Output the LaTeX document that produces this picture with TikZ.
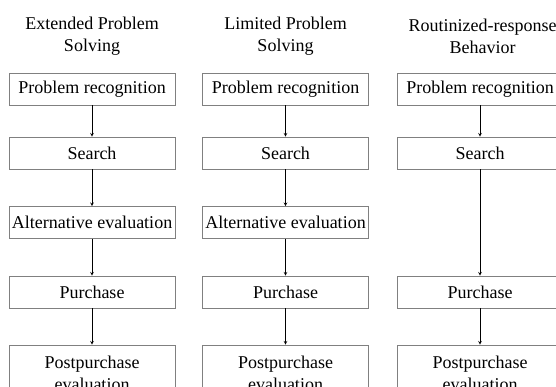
\documentclass[tikz,border=0pt]{standalone}
\usepackage{fontspec}
\setmainfont{Liberation Serif}
\usepackage{tikz}

\begin{document}
\begin{tikzpicture}[x=1pt,y=1pt,
  every node/.style={font=\fontsize{18}{22}\selectfont},
  stage/.style={draw=gray, line width=0.8pt, minimum width=166pt, minimum height=32pt, inner sep=1pt, align=center},
  flow/.style={->, >=stealth, line width=0.6pt}]

% page frame, boxes run off the right and bottom edges
\useasboundingbox (0,0) rectangle (556,-387);
\clip (0,0) rectangle (556,-387);

% --- Extended Problem Solving ---
\begin{scope}[shift={(92,0)}]
\node [align=center] (ext-title) at (0,-36) {Extended Problem\\Solving};
\node [stage] (ext-rec) at (0,-89) {Problem recognition};
\node [stage] (ext-search) at (0,-153) {Search};
\node [stage] (ext-alt) at (0,-222.5) {Alternative evaluation};
\node [stage] (ext-buy) at (0,-292) {Purchase};
\node [stage, minimum height=56pt] (ext-post) at (0,-373) {Postpurchase\\evaluation};

\draw[flow] (ext-rec) -- (ext-search);
\draw[flow] (ext-search) -- (ext-alt);
\draw[flow] (ext-alt) -- (ext-buy);
\draw[flow] (ext-buy) -- (ext-post);
\end{scope}

% --- Limited Problem Solving ---
\begin{scope}[shift={(285.5,0)}]
\node [align=center] (lim-title) at (0,-36) {Limited Problem\\Solving};
\node [stage] (lim-rec) at (0,-89) {Problem recognition};
\node [stage] (lim-search) at (0,-153) {Search};
\node [stage] (lim-alt) at (0,-222.5) {Alternative evaluation};
\node [stage] (lim-buy) at (0,-292) {Purchase};
\node [stage, minimum height=56pt] (lim-post) at (0,-373) {Postpurchase\\evaluation};

\draw[flow] (lim-rec) -- (lim-search);
\draw[flow] (lim-search) -- (lim-alt);
\draw[flow] (lim-alt) -- (lim-buy);
\draw[flow] (lim-buy) -- (lim-post);
\end{scope}

% --- Routinized-response Behavior (no evaluation step) ---
\begin{scope}[shift={(480,0)}]
\node [align=center] (rou-title) at (2.5,-36) {Routinized-response\\Behavior};
\node [stage] (rou-rec) at (0,-89) {Problem recognition};
\node [stage] (rou-search) at (0,-153) {Search};
\node [stage] (rou-buy) at (0,-292) {Purchase};
\node [stage, minimum height=56pt] (rou-post) at (0,-373) {Postpurchase\\evaluation};

\draw[flow] (rou-rec) -- (rou-search);
\draw[flow] (rou-search) -- (rou-buy);
\draw[flow] (rou-buy) -- (rou-post);
\end{scope}

\end{tikzpicture}
\end{document}
